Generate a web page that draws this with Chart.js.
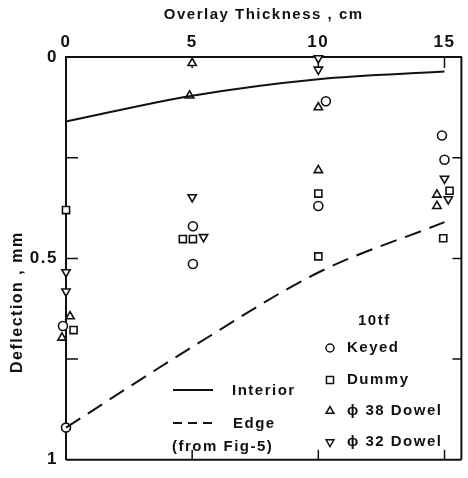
<!DOCTYPE html>
<html>
<head>
<meta charset="utf-8">
<script src="https://cdn.jsdelivr.net/npm/chart.js@4.4.0/dist/chart.umd.min.js"></script>
<style>
  html, body { margin: 0; padding: 0; background: #fff; }
</style>
</head>
<body>
<canvas id="chart" width="468" height="478"></canvas>
<script>
// curves (overlay thickness cm -> deflection mm)
const curveThickness = [0, 5, 10, 15];
const interiorDeflection = [0.16, 0.096, 0.055, 0.036];
const edgeDeflection = [0.92, 0.72, 0.535, 0.41];

// measured points, x slightly offset where symbols sit side by side
const keyedX = [-0.12, 0, 5.03, 5.03, 10.3, 10, 14.9, 15];
const keyedY = [0.668, 0.92, 0.42, 0.514, 0.11, 0.37, 0.195, 0.255];
const dummyX = [0, 0.3, 4.63, 5.03, 10, 10, 15.2, 14.95];
const dummyY = [0.38, 0.678, 0.452, 0.452, 0.339, 0.495, 0.332, 0.45];
const dowel38X = [0.16, -0.16, 5, 4.9, 10, 10, 14.7, 14.7];
const dowel38Y = [0.644, 0.697, 0.015, 0.096, 0.125, 0.281, 0.342, 0.37];
const dowel32X = [0, 0, 5, 5.45, 10, 10, 15, 15.15];
const dowel32Y = [0.534, 0.582, 0.348, 0.447, 0.003, 0.031, 0.302, 0.353];

const xTickValues = [0, 5, 10, 15];
const yTickValues = [0, 0.5, 1];
const yMinorTicks = [0.25, 0.5, 0.75];

const INK = '#111';
const FONT = '"Liberation Sans", Arial, sans-serif';

function pts(xs, ys) {
  return xs.map((x, i) => ({ x: x, y: ys[i] }));
}

function markerSet(label, xs, ys, style, radius, rotation) {
  return {
    label: label,
    data: pts(xs, ys),
    pointStyle: style,
    pointRadius: radius,
    pointRotation: rotation || 0,
    pointBorderWidth: 1.6,
    borderColor: INK,
    backgroundColor: '#fff',
    showLine: false,
    clip: false
  };
}

const frameTicks = {
  id: 'frameTicks',
  beforeDraw(chart) {
    chart.ctx.letterSpacing = '1.5px';
  },
  beforeDatasetsDraw(chart) {
    const { ctx, chartArea: a, scales: { x, y } } = chart;
    ctx.save();
    ctx.strokeStyle = INK;
    ctx.lineWidth = 2;
    ctx.beginPath();
    ctx.moveTo(a.right, a.top); ctx.lineTo(a.right, a.bottom);
    ctx.moveTo(a.left, a.bottom); ctx.lineTo(a.right, a.bottom);
    ctx.stroke();
    ctx.lineWidth = 1.5;
    ctx.beginPath();
    yMinorTicks.forEach(v => {
      const py = y.getPixelForValue(v);
      ctx.moveTo(a.left, py); ctx.lineTo(a.left + 12, py);
      ctx.moveTo(a.right, py); ctx.lineTo(a.right - 9, py);
    });
    xTickValues.slice(1).forEach(v => {
      const px = x.getPixelForValue(v);
      ctx.moveTo(px, a.bottom); ctx.lineTo(px, a.bottom - 10);
      ctx.moveTo(px, a.top); ctx.lineTo(px, a.top + 11);
    });
    ctx.stroke();
    ctx.restore();
  },
  afterDraw(chart) {
    const ctx = chart.ctx;
    ctx.save();
    ctx.letterSpacing = '1.5px';
    ctx.fillStyle = INK;
    ctx.strokeStyle = INK;
    ctx.font = 'bold 15px ' + FONT;
    ctx.textBaseline = 'middle';
    ctx.textAlign = 'left';

    // right block: load and symbols
    ctx.fillText('10tf', 358, 321);
    const entries = [
      ['Keyed', 'circle', 4, 0, 348],
      ['Dummy', 'rect', 5, 0, 380],
      ['\u03D5 38 Dowel', 'triangle', 4.5, 0, 411],
      ['\u03D5 32 Dowel', 'triangle', 4.5, 180, 442]
    ];
    entries.forEach(e => {
      ctx.lineWidth = 1.5;
      ctx.fillStyle = '#fff';
      Chart.helpers.drawPoint(ctx, { pointStyle: e[1], radius: e[2], rotation: e[3], borderWidth: 1.5 }, 330, e[4]);
      ctx.fillStyle = INK;
      ctx.fillText(e[0], 347, e[4]);
    });

    // left block: curves
    ctx.lineWidth = 2;
    ctx.beginPath();
    ctx.moveTo(173, 390); ctx.lineTo(213, 390);
    ctx.stroke();
    ctx.setLineDash([9, 6]);
    ctx.beginPath();
    ctx.moveTo(173, 423); ctx.lineTo(213, 423);
    ctx.stroke();
    ctx.setLineDash([]);
    ctx.fillText('Interior', 232, 391);
    ctx.fillText('Edge', 233, 424);
    ctx.fillText('(from Fig-5)', 172, 447);
    ctx.restore();
  }
};

const ctx = document.getElementById('chart').getContext('2d');
new Chart(ctx, {
  type: 'scatter',
  data: {
    datasets: [
      {
        label: 'Interior',
        data: pts(curveThickness, interiorDeflection),
        showLine: true,
        borderColor: INK,
        borderWidth: 2,
        pointRadius: 0,
        cubicInterpolationMode: 'monotone',
        clip: false
      },
      {
        label: 'Edge',
        data: pts(curveThickness, edgeDeflection),
        showLine: true,
        borderColor: INK,
        borderWidth: 2,
        borderDash: [17, 9],
        pointRadius: 0,
        cubicInterpolationMode: 'monotone',
        clip: false
      },
      markerSet('Keyed', keyedX, keyedY, 'circle', 4.5),
      markerSet('Dummy', dummyX, dummyY, 'rect', 5),
      markerSet('\u03D5 38 Dowel', dowel38X, dowel38Y, 'triangle', 4.8),
      markerSet('\u03D5 32 Dowel', dowel32X, dowel32Y, 'triangle', 4.8, 180)
    ]
  },
  options: {
    responsive: false,
    animation: false,
    devicePixelRatio: 1,
    layout: { padding: { left: 0, top: 0, right: 6, bottom: 5 } },
    plugins: {
      legend: { display: false },
      tooltip: { enabled: false }
    },
    scales: {
      x: {
        type: 'linear',
        position: 'top',
        min: 0,
        max: 15.67,
        afterBuildTicks: s => { s.ticks = xTickValues.map(v => ({ value: v })); },
        afterFit: s => { s.height = 57; },
        grid: { display: false, drawTicks: false },
        border: { display: true, color: INK, width: 2 },
        ticks: { color: INK, font: { family: FONT, size: 17, weight: 'bold' }, padding: 4, maxRotation: 0 },
        title: {
          display: true,
          text: 'Overlay Thickness , cm',
          color: INK,
          font: { family: FONT, size: 15, weight: 'bold' },
          padding: { top: 6, bottom: 0 }
        }
      },
      y: {
        type: 'linear',
        reverse: true,
        min: 0,
        max: 1,
        afterBuildTicks: s => { s.ticks = yTickValues.map(v => ({ value: v })); },
        afterFit: s => { s.width = 66; },
        grid: { display: false, drawTicks: false },
        border: { display: true, color: INK, width: 2 },
        ticks: {
          color: INK,
          font: { family: FONT, size: 17, weight: 'bold' },
          padding: 8,
          callback: v => String(v)
        },
        title: {
          display: true,
          // trailing em spaces push the label down the axis as in the original
          text: 'Deflection , mm' + '\u2003'.repeat(5),
          color: INK,
          font: { family: FONT, size: 16, weight: 'bold' },
          padding: { top: 8, bottom: 0 }
        }
      }
    }
  },
  plugins: [frameTicks]
});
</script>
</body>
</html>
